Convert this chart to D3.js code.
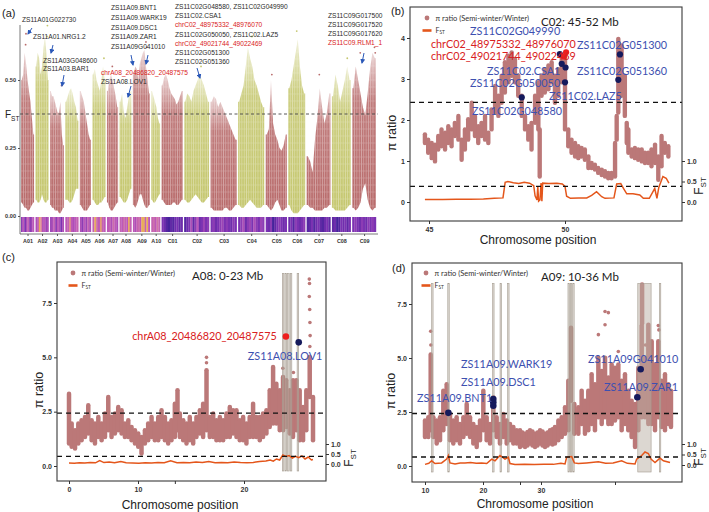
<!DOCTYPE html>
<html>
<head>
<meta charset="utf-8">
<script src="https://cdn.jsdelivr.net/npm/d3@7"></script>
<style>
  body { margin: 0; background: #fff; }
  text { font-family: "Liberation Sans", Arial, sans-serif; }
  .lato { font-family: Lato, "Open Sans", sans-serif; }
</style>
</head>
<body>
<svg id="fig" width="709" height="512"></svg>
<script>
// ---------- panel (a): genome-wide FST ----------
var chroms = ["A01","A02","A03","A04","A05","A06","A07","A08","A09","A10",
              "C01","C02","C03","C04","C05","C06","C07","C08","C09"];
var chromMb = [34,34,36,34,29,34,29,31,44,23,55,65,68,68,55,44,62,49,62];

// upper edge of the FST point cloud along each chromosome
var fstTopA = [
  [0.50,0.52,0.60,0.56,0.50,0.46,0.42,0.36,0.30],
  [0.55,0.60,0.58,0.52,0.55,0.62,0.66,0.60,0.50],
  [0.46,0.44,0.44,0.42,0.40,0.38,0.38,0.42,0.30,0.26],
  [0.42,0.44,0.46,0.47,0.45,0.42,0.40,0.35],
  [0.46,0.44,0.42,0.38,0.34,0.30,0.28],
  [0.52,0.54,0.50,0.48,0.46,0.50,0.55,0.50],
  [0.46,0.50,0.52,0.50,0.47,0.44,0.40],
  [0.42,0.45,0.38,0.36,0.40,0.44,0.46],
  [0.52,0.55,0.54,0.50,0.56,0.58,0.60,0.61,0.55,0.50,0.45],
  [0.46,0.44,0.42,0.40,0.36,0.34],
  [0.48,0.51,0.52,0.50,0.47,0.45,0.44,0.43,0.41,0.42,0.44,0.46],
  [0.42,0.45,0.44,0.42,0.46,0.48,0.50,0.52,0.50,0.48,0.45,0.42],
  [0.42,0.44,0.43,0.40,0.42,0.40,0.38,0.36,0.34,0.32,0.30,0.28],
  [0.42,0.45,0.48,0.55,0.62,0.58,0.55,0.50,0.48,0.45,0.42,0.40],
  [0.30,0.32,0.50,0.34,0.30,0.28,0.25,0.24,0.26,0.30],
  [0.47,0.50,0.55,0.60,0.65,0.55,0.48,0.45],
  [0.22,0.20,0.16,0.28,0.36,0.47,0.40,0.34,0.38,0.45],
  [0.44,0.52,0.48,0.42,0.46,0.50,0.55,0.50],
  [0.47,0.55,0.50,0.45,0.40,0.37,0.45,0.54,0.60,0.58]
];
// lower edge of the cloud
var fstLowA = [
  [0.05,0.04,0.03,0.03,0.02,0.02,0.03,0.04,0.05],
  [0.06,0.05,0.05,0.06,0.08,0.06,0.05,0.05,0.06],
  [0.04,0.03,0.03,0.02,0.02,0.02,0.01,0.01,0.02,0.03],
  [0.06,0.06,0.05,0.05,0.06,0.08,0.10,0.10],
  [0.04,0.03,0.02,0.02,0.02,0.03,0.04],
  [0.06,0.05,0.04,0.04,0.05,0.05,0.06,0.07],
  [0.05,0.03,0.02,0.02,0.03,0.04,0.05],
  [0.07,0.06,0.05,0.05,0.06,0.08,0.10],
  [0.04,0.03,0.04,0.06,0.08,0.08,0.06,0.04,0.03,0.03,0.04],
  [0.06,0.05,0.05,0.06,0.07,0.08],
  [0.06,0.05,0.04,0.04,0.04,0.04,0.05,0.05,0.04,0.04,0.05,0.06],
  [0.06,0.05,0.05,0.06,0.07,0.08,0.07,0.06,0.05,0.05,0.06,0.07],
  [0.03,0.02,0.02,0.02,0.02,0.02,0.03,0.03,0.02,0.02,0.03,0.04],
  [0.04,0.03,0.03,0.04,0.05,0.06,0.05,0.04,0.03,0.03,0.03,0.04],
  [0.04,0.03,0.02,0.03,0.05,0.06,0.04,0.02,0.02,0.03],
  [0.04,0.02,0.01,0.01,0.01,0.02,0.03,0.04],
  [0.04,0.03,0.03,0.02,0.02,0.02,0.02,0.03,0.03,0.04],
  [0.03,0.02,0.02,0.02,0.02,0.02,0.03,0.04],
  [0.03,0.02,0.03,0.05,0.10,0.12,0.06,0.03,0.02,0.03]
];
// isolated high points: [chromosome index, Mb, FST]
var fstOutA = [[0,13,0.67],[0,12,0.63],[1,31,0.70],[1,30,0.66],[2,30,0.48],[5,30,0.58],
               [6,14,0.55],[8,34,0.64],[8,36,0.62],[11,44,0.55],[13,36,0.66],[14,16,0.52],
               [15,22,0.68],[16,33,0.52],[17,40,0.58],[18,21,0.60],[18,58,0.62],[18,60,0.60]];
// heat strip under each chromosome (0 = dark blue ... 1 = yellow)
var heatA = [
  [0.35,0.50,0.30,0.45,0.55,0.35,0.40,0.50],
  [0.45,0.50,0.88,0.70,0.45,0.50,0.40,0.45],
  [0.40,0.45,0.55,0.35,0.50,0.45,0.30,0.45],
  [0.50,0.55,0.75,0.50,0.45,0.50,0.55],
  [0.45,0.35,0.50,0.40,0.55,0.45],
  [0.55,0.88,0.60,0.50,0.82,0.55,0.50],
  [0.50,0.55,0.45,0.60,0.50,0.45],
  [0.55,0.50,0.60,0.55,0.50,0.88,0.55],
  [0.50,0.45,0.55,0.60,0.50,0.92,0.88,0.55,0.92,0.50],
  [0.55,0.60,0.50,0.65,0.55],
  [0.30,0.25,0.15,0.10,0.20,0.15,0.25,0.30,0.20,0.25],
  [0.15,0.25,0.30,0.45,0.20,0.35,0.50,0.25,0.30,0.40,0.30,0.35],
  [0.30,0.35,0.25,0.30,0.35,0.40,0.30,0.35,0.30,0.25,0.35,0.30],
  [0.30,0.35,0.45,0.25,0.35,0.40,0.30,0.45,0.35,0.30,0.40,0.35],
  [0.30,0.25,0.35,0.10,0.20,0.30,0.35,0.30,0.25,0.30],
  [0.25,0.30,0.15,0.35,0.30,0.25,0.30,0.35],
  [0.15,0.20,0.30,0.15,0.25,0.30,0.20,0.15,0.25,0.30,0.20],
  [0.20,0.25,0.10,0.15,0.30,0.25,0.30,0.20,0.30],
  [0.30,0.35,0.30,0.25,0.35,0.30,0.25,0.35,0.30,0.35,0.30]
];
var aTicks = [0, 0.25, 0.5];
var aCut = 0.375;

// gene annotations of panel (a): [text, red?]
var aNotes = [
  ["ZS11A01G022730",0],["ZS11A01.NRG1.2",0],["ZS11A03G048600",0],["ZS11A03.BAR1",0],
  ["ZS11A09.BNT1",0],["ZS11A09.WARK19",0],["ZS11A09.DSC1",0],["ZS11A09.ZAR1",0],["ZS11A09G041010",0],
  ["chrA08_20486820_20487575",1],["ZS11A08.LOV1",0],
  ["ZS11C02G048580, ZS11C02G049990",0],["ZS11C02.CSA1",0],["chrC02_48975332_48976070",1],
  ["ZS11C02G050050, ZS11C02.LAZ5",0],["chrC02_49021744_49022469",1],["ZS11C02G051300",0],["ZS11C02G051360",0],
  ["ZS11C09G017500",0],["ZS11C09G017520",0],["ZS11C09G017620",0],["ZS11C09.RLM1_1",1]
];
// where each note sits (px)
var aNotePos = [[22,22],[33,39],[43,63],[43,71],[111,10],[111,20],[111,30],[111,39],[111,49],
  [101,75],[101,84],[175,9],[175,18],[175,27],[175,37],[175,46],[175,55],[175,64],
  [328,18],[328,27],[328,36],[328,45]];
var aArrows = [[32,28,28,34],[53,45,51,53],[64,75,62,86],[131,55,133,65],[148,55,146,64],
  [131,86,128,97],[197,68,200,78],[364,53,362,63]];

// ---------- panel (b): C02 45-52 Mb ----------
// [Mb, lowest pi ratio, highest pi ratio] of the dot column at that position
var bSlices = [
  [44.85,1.44,1.65],[44.97,1.20,1.52],[45.10,1.07,1.44],[45.22,0.99,1.40],[45.34,1.28,1.61],
  [45.46,1.36,1.77],[45.59,1.28,1.69],[45.71,1.44,1.85],[45.83,1.36,1.77],[45.95,1.61,1.93],
  [46.08,1.52,2.10],[46.20,1.03,1.52],[46.32,1.28,1.77],[46.44,1.52,2.02],[46.57,1.77,2.42],
  [46.69,1.61,2.10],[46.81,1.44,1.85],[46.93,1.61,1.93],[47.06,1.52,2.10],[47.18,1.44,1.69],
  [47.30,1.77,2.26],[47.43,2.18,2.83],[47.55,2.10,2.59],[47.67,2.42,3.08],[47.79,2.67,3.41],
  [47.92,2.92,3.57],[48.04,3.08,3.65],[48.16,2.92,3.49],[48.28,2.59,3.08],[48.41,2.10,2.59],
  [48.53,1.77,2.10],[48.65,1.52,1.85],[48.77,1.28,1.93],[48.90,1.93,2.59],[49.02,1.77,2.92],
  [49.07,0.62,1.77],[49.14,2.59,3.08],[49.26,2.67,3.24],[49.39,2.75,3.33],[49.51,2.92,3.41],
  [49.63,2.42,3.08],[49.75,2.59,3.24],[49.88,2.92,3.57],[50.00,1.77,3.57],[50.12,1.36,1.77],
  [50.24,1.20,1.52],[50.37,1.11,1.44],[50.49,1.07,1.36],[50.61,1.11,1.32],[50.73,1.03,1.28],
  [50.86,0.83,1.11],[50.98,0.83,0.95],[51.10,0.79,0.91],[51.22,0.71,0.83],[51.35,0.66,0.79],
  [51.47,0.62,0.75],[51.59,0.58,0.71],[51.71,0.58,0.71],[51.84,0.62,1.44],[51.90,1.52,2.10],
  [51.96,2.18,3.98],[52.08,2.59,3.82],[52.20,2.10,3.08],[52.27,1.44,1.93],[52.33,1.20,1.77],
  [52.45,1.11,1.28],[52.57,1.07,1.32],[52.69,1.03,1.28],[52.82,0.99,1.28],[52.94,0.95,1.20],
  [53.06,0.95,1.20],[53.18,0.87,1.28],[53.31,0.95,1.40],[53.43,0.54,1.11],[53.55,0.87,1.61],
  [53.67,1.20,1.44],[53.80,1.11,1.36]
];
var bFst = [[44.85,0.06],[45.5,0.06],[46.0,0.065],[46.5,0.07],[47.0,0.075],[47.4,0.09],[47.72,0.10],
  [47.8,0.48],[47.9,0.50],[48.1,0.47],[48.3,0.45],[48.5,0.48],[48.7,0.46],[48.85,0.40],[48.9,0.15],
  [48.97,0.05],[49.0,0.38],[49.03,0.02],[49.08,0.05],[49.12,0.46],[49.15,0.02],[49.18,0.46],
  [49.4,0.45],[49.7,0.46],[49.9,0.44],[50.0,0.38],[50.06,0.14],[50.2,0.09],[50.5,0.10],[50.8,0.10],
  [50.98,0.16],[51.16,0.25],[51.35,0.13],[51.47,0.09],[51.8,0.10],[51.9,0.44],[52.05,0.45],
  [52.15,0.33],[52.27,0.20],[52.5,0.20],[52.75,0.17],[52.88,0.09],[53.1,0.09],[53.3,0.33],
  [53.38,0.09],[53.45,0.36],[53.6,0.62],[53.72,0.58],[53.82,0.46]];
var bNavy = [[49.81,3.61],[49.88,3.37],[50.02,3.28],[50.00,2.92],[48.41,2.55],[52.02,3.60],[51.96,2.98]];
var bRed = [[50.04,3.65],[49.96,3.55]];
var bNotes = [["ZS11C02G049990",0],["chrC02_48975332_48976070",1],["chrC02_49021744_49022469",1],
  ["ZS11C02G051300",0],["ZS11C02.CSA1",0],["ZS11C02G051360",0],["ZS11C02G050050",0],
  ["ZS11C02.LAZ5",0],["ZS11C02G048580",0]];
var bNotePos = [[46.51,4.08],[45.07,3.76],[45.07,3.46],[50.44,3.73],[47.13,3.10],[50.44,3.10],
  [46.51,2.80],[49.41,2.48],[46.58,2.11]];

// ---------- panel (c): A08 0-23 Mb ----------
var cSlices = [
  [0.00,1.04,3.33],[0.25,0.88,1.95],[0.57,0.81,1.65],[0.88,1.04,1.95],[1.19,1.19,2.11],
  [1.51,1.34,2.26],[1.82,1.49,2.80],[2.14,1.19,2.11],[2.45,1.04,1.95],[2.77,1.34,2.26],
  [3.08,1.19,1.95],[3.40,1.34,2.41],[3.71,1.65,3.18],[4.02,1.34,2.26],[4.34,1.49,2.41],
  [4.65,1.65,2.72],[4.97,1.49,2.57],[5.28,1.34,1.95],[5.60,1.34,2.11],[5.91,1.19,1.80],
  [6.23,1.04,1.65],[6.54,0.88,1.49],[6.85,0.58,1.34],[7.17,1.04,1.65],[7.48,1.19,1.95],
  [7.80,1.34,2.26],[8.11,1.19,1.95],[8.43,1.19,2.26],[8.74,1.34,2.57],[9.06,1.19,2.26],
  [9.37,1.04,1.95],[9.68,1.19,2.11],[10.00,1.34,2.87],[10.25,1.65,3.48],[10.47,1.34,2.41],
  [10.79,1.19,2.11],[11.10,1.04,1.95],[11.41,1.19,2.26],[11.73,1.04,1.95],[12.04,1.34,2.26],
  [12.36,1.49,2.57],[12.67,1.34,2.87],[12.99,1.65,4.40],[13.30,1.34,2.26],[13.62,1.34,2.41],
  [13.93,1.19,2.11],[14.25,1.19,2.26],[14.56,1.19,2.11],[14.87,1.34,2.41],[15.19,1.34,2.72],
  [15.50,1.49,2.57],[15.82,1.34,2.57],[16.13,1.19,2.11],[16.45,1.19,2.26],[16.76,1.04,1.95],
  [17.07,1.34,2.26],[17.39,1.34,2.87],[17.70,1.34,2.26],[18.02,1.19,2.26],[18.33,1.34,2.41],
  [18.65,1.49,2.57],[18.96,1.80,3.48],[19.28,1.95,4.55],[19.59,1.95,3.79],[19.91,1.65,3.48],
  [20.22,1.65,4.10],[20.53,1.80,3.95],[20.85,1.49,3.48],[21.16,1.34,3.95],[21.48,1.65,3.95],
  [21.79,1.19,3.48],[22.11,1.19,2.72],[22.42,1.65,3.48],[22.74,3.18,5.01],[23.05,1.19,3.18]
];
var cOut = [[12.99,5.0],[12.99,4.75],[22.70,8.6],[22.72,8.4],[22.70,7.8],[22.74,7.2],[22.76,6.6],
  [22.78,6.0],[22.75,5.5],[20.20,4.5],[21.20,4.3]];
var cFst = [[0.0,0.05],[0.5,0.04],[1.0,0.06],[1.5,0.05],[2.0,0.08],[2.5,0.06],[2.9,0.17],[3.3,0.07],
  [3.8,0.10],[4.3,0.06],[4.9,0.12],[5.4,0.06],[6.0,0.05],[6.6,0.04],[7.2,0.06],[7.8,0.05],[8.4,0.07],
  [9.0,0.06],[9.6,0.16],[10.2,0.06],[10.8,0.08],[11.4,0.06],[12.0,0.10],[12.6,0.07],[13.2,0.12],
  [13.8,0.06],[14.4,0.08],[15.0,0.06],[15.6,0.10],[16.2,0.07],[16.8,0.06],[17.4,0.08],[18.0,0.12],
  [18.6,0.15],[19.0,0.20],[19.3,0.14],[19.6,0.25],[19.9,0.20],[20.2,0.45],[20.5,0.38],[20.8,0.42],
  [21.1,0.30],[21.4,0.38],[21.7,0.32],[22.0,0.40],[22.3,0.25],[22.6,0.35],[22.9,0.20],[23.05,0.22]];
var cBands = [[20.15,20.30],[20.40,20.55],[20.65,20.80],[20.90,21.05],[21.55,21.70]];
var cNavy = [[21.70,5.69]];
var cRed = [[20.49,5.96]];
var cNotes = [["chrA08_20486820_20487575",1],["ZS11A08.LOV1",0]];
var cNotePos = [[19.62,5.78,"end"],[16.89,4.86,"start"]];

// ---------- panel (d): A09 10-36 Mb ----------
var dSlices = [
  [10.00,1.34,2.11],[10.35,1.34,2.26],[10.60,1.65,5.16],[10.88,1.34,2.26],[11.23,1.04,2.11],
  [11.58,1.19,2.26],[11.93,1.65,3.48],[12.28,1.95,3.79],[12.63,1.19,2.41],[12.98,1.04,2.11],
  [13.33,1.19,2.26],[13.68,1.04,1.95],[14.04,1.34,2.26],[14.39,1.49,2.87],[14.74,1.34,2.26],
  [15.09,1.04,1.95],[15.44,0.88,1.80],[15.79,1.19,2.11],[16.14,1.65,3.48],[16.49,1.19,2.26],
  [16.84,1.04,1.95],[17.19,1.65,3.18],[17.54,1.34,2.26],[17.89,1.04,1.95],[18.25,1.34,2.41],
  [18.60,1.04,2.11],[18.95,1.19,1.95],[19.30,1.04,1.80],[19.65,1.04,1.65],[20.00,0.88,1.65],
  [20.26,0.95,1.55],[20.53,0.88,1.49],[20.79,0.95,1.57],[21.05,1.04,1.65],[21.31,0.95,1.60],
  [21.58,0.88,1.49],[21.84,0.95,1.55],[22.11,1.04,1.65],[22.37,0.95,1.60],[22.63,0.88,1.49],
  [22.90,0.95,1.55],[23.16,1.04,1.65],[23.42,1.00,1.70],[23.68,1.04,1.80],[24.04,1.19,2.11],
  [24.39,1.34,2.26],[24.74,1.49,2.72],[25.09,1.65,3.95],[25.37,3.02,6.40],[25.72,1.49,2.87],
  [26.14,1.49,2.72],[26.49,1.95,3.48],[26.84,1.49,3.02],[27.19,1.65,3.48],[27.54,1.95,4.25],
  [27.89,1.65,3.79],[28.25,2.26,5.01],[28.60,1.95,4.40],[28.95,2.26,5.01],[29.30,1.95,4.10],
  [29.65,1.95,4.70],[30.00,2.11,4.55],[30.35,2.26,4.70],[30.70,1.65,3.95],[31.05,1.95,4.25],
  [31.40,1.65,3.48],[31.75,1.34,3.02],[32.11,0.88,2.87],[32.46,1.65,4.55],[32.81,2.26,6.50],
  [32.85,6.60,8.40],[33.16,2.26,5.01],[33.51,1.95,6.54],[33.86,1.95,5.78],[34.21,1.65,4.70],
  [34.56,2.26,5.78],[34.91,1.80,3.95],[35.26,1.65,4.25],[35.61,1.95,3.79],[35.89,1.80,3.48]
];
var dOut = [[10.60,6.24],[10.62,5.6],[28.25,6.08],[28.95,7.15],[28.95,6.54],[29.30,7.1],
  [34.56,6.5],[30.35,5.3],[33.20,5.6],[34.62,6.3]];
var dFst = [[10.0,0.03],[10.4,0.08],[10.7,0.20],[11.05,0.07],[11.75,0.10],[12.28,0.28],[12.46,0.45],
  [12.63,0.10],[13.16,0.05],[13.7,0.10],[14.21,0.09],[14.8,0.12],[15.4,0.08],[15.96,0.10],[16.5,0.07],
  [17.02,0.28],[17.37,0.20],[17.89,0.45],[18.14,0.37],[18.42,0.28],[18.77,0.37],[18.95,0.07],
  [19.47,0.02],[20.5,0.03],[21.5,0.02],[22.5,0.03],[23.5,0.03],[24.3,0.08],[24.74,0.05],[24.91,0.37],
  [25.44,0.40],[25.72,0.10],[26.14,0.07],[27.0,0.10],[28.25,0.15],[29.0,0.08],[29.8,0.10],[30.7,0.20],
  [31.3,0.08],[32.11,0.05],[32.28,0.28],[32.81,0.45],[33.16,0.62],[33.51,0.55],[33.79,0.28],
  [34.21,0.12],[34.74,0.33],[35.09,0.20],[35.79,0.12]];
var dBands = [[10.70,10.85],[12.40,12.55],[17.12,17.27],[17.90,18.05],[18.70,18.85],[25.05,25.20],
  [25.30,25.45],[25.55,25.70],[32.40,33.80],[34.67,34.82]];
var dNavy = [[12.46,2.46],[17.19,3.10],[17.19,2.95],[17.19,2.79],[32.70,4.48],[32.35,3.18]];
var dNotes = [["ZS11A09.BNT1",0],["ZS11A09.WARK19",0],["ZS11A09.DSC1",0],["ZS11A09G041010",0],["ZS11A09.ZAR1",0]];
var dNotePos = [[9.16,2.94,"start"],[13.79,4.54,"start"],[13.79,3.72,"start"],[27.16,4.77,"start"],[28.84,3.49,"start"]];

var piCut = 2.43, fstCut = 0.38;

// ---------- drawing ----------
var svg = d3.select("#fig");
var PI_COL = "#bb7878", FST_COL = "#e4561b", NAVY = "#151a5c", RED = "#ee1e1e",
    BLUE = "#3d50b0", NOTE_RED = "#d92121";
var defs = svg.append("defs");

defs.append("marker").attr("id", "arr").attr("viewBox", "0 0 10 10")
  .attr("refX", 8).attr("refY", 5).attr("markerWidth", 5).attr("markerHeight", 5)
  .attr("orient", "auto")
  .append("path").attr("d", "M0,0L10,5L0,10z").attr("fill", "#2b58b8");

var aCols = ["#b86b6b", "#c5c76f"];
aCols.forEach(function(c, i) {
  var g = defs.append("linearGradient").attr("id", "fade" + i)
    .attr("x1", 0).attr("y1", 0).attr("x2", 0).attr("y2", 1);
  g.append("stop").attr("offset", "0%").attr("stop-color", c).attr("stop-opacity", 0.3);
  g.append("stop").attr("offset", "30%").attr("stop-color", c).attr("stop-opacity", 0.88);
  g.append("stop").attr("offset", "100%").attr("stop-color", c).attr("stop-opacity", 1);
});
// thin white streaks so the clouds read as columns of points
var streak = defs.append("pattern").attr("id", "streak").attr("patternUnits", "userSpaceOnUse")
  .attr("width", 2.3).attr("height", 7);
streak.append("rect").attr("x", 0).attr("y", 0).attr("width", 0.6).attr("height", 7)
  .attr("fill", "#fff").attr("fill-opacity", 0.45);
streak.append("rect").attr("x", 1.3).attr("y", 2).attr("width", 0.4).attr("height", 2)
  .attr("fill", "#fff").attr("fill-opacity", 0.35);

// ---- (a)
var gapMb = 3.8, starts = [], acc = 0;
chromMb.forEach(function(l) { starts.push(acc); acc += l + gapMb; });
var totalMb = acc - gapMb;
var aX = d3.scaleLinear().domain([0, totalMb]).range([21, 376]);
var aY = d3.scaleLinear().domain([0, 0.5]).range([216, 80]);
var heat = d3.scaleLinear().domain([0, 0.3, 0.5, 0.7, 1])
  .range(["#2c1b8f", "#7b32b2", "#bd58b8", "#d9809e", "#efc236"]);
var gA = svg.append("g");

var cloud = d3.area().x(function(d) { return aX(d.x); })
  .y0(function(d) { return aY(d.lo); }).y1(function(d) { return aY(d.hi); });

chroms.forEach(function(c, i) {
  var tops = fstTopA[i], lows = fstLowA[i], n = tops.length, w = chromMb[i] / n;
  var pts = [{x: starts[i], lo: lows[0], hi: tops[0]}];
  tops.forEach(function(t, j) { pts.push({x: starts[i] + (j + 0.5) * w, lo: lows[j], hi: t}); });
  pts.push({x: starts[i] + chromMb[i], lo: lows[n - 1], hi: tops[n - 1]});
  gA.append("path").datum(pts).attr("d", cloud).attr("fill", "url(#fade" + (i % 2) + ")");
  gA.append("path").datum(pts).attr("d", cloud).attr("fill", "url(#streak)");

  var hv = heatA[i], hw = chromMb[i] / hv.length;
  gA.selectAll(null).data(hv).enter().append("rect")
    .attr("x", function(d, j) { return aX(starts[i] + j * hw); })
    .attr("width", function(d, j) { return aX(starts[i] + (j + 1) * hw) - aX(starts[i] + j * hw) + 0.2; })
    .attr("y", 217).attr("height", 15)
    .attr("fill", function(d) { return heat(d); });
});

gA.selectAll(null).data(fstOutA).enter().append("circle")
  .attr("cx", function(d) { return aX(starts[d[0]] + d[1]); })
  .attr("cy", function(d) { return aY(d[2]); })
  .attr("r", 0.9).attr("fill", function(d) { return aCols[d[0] % 2]; });

gA.append("line").attr("x1", 20).attr("x2", 378).attr("y1", aY(aCut)).attr("y2", aY(aCut))
  .attr("stroke", "#444").attr("stroke-width", 0.9).attr("stroke-dasharray", "3,2.5");

gA.append("line").attr("x1", 20).attr("x2", 20).attr("y1", 25).attr("y2", 234).attr("stroke", "#555").attr("stroke-width", 0.8);
gA.append("line").attr("x1", 20).attr("x2", 378).attr("y1", 234).attr("y2", 234).attr("stroke", "#555").attr("stroke-width", 0.8);

var aLeft = gA.append("g").attr("transform", "translate(20,0)")
  .call(d3.axisLeft(aY).tickValues(aTicks).tickFormat(d3.format(".2f")).tickSize(2).tickPadding(2));
aLeft.select(".domain").remove();
aLeft.selectAll("text").attr("font-size", 5.6).attr("font-weight", "bold").attr("fill", "#333");
aLeft.selectAll("line").attr("stroke", "#555");

var centers = chroms.map(function(c, i) { return starts[i] + chromMb[i] / 2; });
var aBot = gA.append("g").attr("transform", "translate(0,234)")
  .call(d3.axisBottom(aX).tickValues(centers).tickFormat(function(d, i) { return chroms[i]; }).tickSize(2).tickPadding(3));
aBot.select(".domain").remove();
aBot.selectAll("text").attr("font-size", 5.4).attr("font-weight", "bold").attr("fill", "#333");
aBot.selectAll("line").attr("stroke", "#555");

var aLab = gA.append("text").attr("x", 5).attr("y", 118).attr("font-size", 10).attr("fill", "#222");
aLab.append("tspan").text("F");
aLab.append("tspan").attr("font-size", 6.5).attr("dy", 2.5).text("ST");

gA.selectAll(null).data(aNotes).enter().append("text")
  .attr("x", function(d, i) { return aNotePos[i][0]; })
  .attr("y", function(d, i) { return aNotePos[i][1]; })
  .attr("font-size", 6.6).attr("fill", function(d) { return d[1] ? NOTE_RED : "#2a2a2a"; })
  .text(function(d) { return d[0]; });

gA.selectAll(null).data(aArrows).enter().append("line")
  .attr("x1", function(d) { return d[0]; }).attr("y1", function(d) { return d[1]; })
  .attr("x2", function(d) { return d[2]; }).attr("y2", function(d) { return d[3]; })
  .attr("stroke", "#2b58b8").attr("stroke-width", 1).attr("marker-end", "url(#arr)");

svg.append("text").attr("x", 2).attr("y", 17).attr("font-size", 11).attr("fill", "#222").text("(a)");

// ---- (b), (c), (d)
var panels = [
  {tag: "(b)", tagPos: [391, 15], frame: [410, 7, 682, 221],
   xDom: [45, 50], xRng: [429, 565], labDom: [45, 50], labRng: [429, 565], xTicks: [45, 50], extra: [],
   piDom: [0, 4], piRng: [202, 38], piTicks: [0, 1, 2, 3, 4], piFmt: "d", fRng: [202, 161],
   slices: bSlices, outs: [], fst: bFst, bands: [], bandTop: 0, navy: bNavy, red: bRed,
   notes: bNotes, notePos: bNotePos, r: 1.75, dotR: 3.1,
   title: "C02: 45-52 Mb", titlePos: [541, 26], leg: [427, 18],
   piLab: [396, 133], fstLab: [703, 186], xLab: [538, 244]},
  {tag: "(c)", tagPos: [2, 261], frame: [57, 262, 326, 481],
   xDom: [0, 23.05], xRng: [69, 313], labDom: [0, 10, 20], labRng: [69, 138, 244], xTicks: [0, 10, 20], extra: [10],
   piDom: [0, 7.5], piRng: [466, 303], piTicks: [0, 2.5, 5, 7.5], piFmt: ".1f", fRng: [464, 444],
   slices: cSlices, outs: cOut, fst: cFst, bands: cBands, bandTop: 8.85, navy: cNavy, red: cRed,
   notes: cNotes, notePos: cNotePos, r: 1.8, dotR: 3.3,
   title: "A08: 0-23 Mb", titlePos: [192, 280], leg: [73, 273],
   piLab: [43, 390], fstLab: [353, 458], xLab: [180, 509]},
  {tag: "(d)", tagPos: [392, 272], frame: [412, 263, 682, 482],
   xDom: [10, 36], xRng: [425, 672], labDom: [10, 30], labRng: [425, 541], xTicks: [10, 20, 30], extra: [20, 30],
   piDom: [0, 7.5], piRng: [466, 304], piTicks: [0, 2.5, 5, 7.5], piFmt: ".1f", fRng: [465, 444],
   slices: dSlices, outs: dOut, fst: dFst, bands: dBands, bandTop: 8.45, navy: dNavy, red: [],
   notes: dNotes, notePos: dNotePos, r: 1.8, dotR: 3.3,
   title: "A09: 10-36 Mb", titlePos: [541, 281], leg: [426, 273],
   piLab: [395, 391], fstLab: [703, 457], xLab: [535, 508]}
];

panels.forEach(function(p) {
  var g = svg.append("g");
  var L = p.frame[0], T = p.frame[1], R = p.frame[2], B = p.frame[3];
  var x = d3.scaleLinear().domain(p.xDom).range(p.xRng);
  var y = d3.scaleLinear().domain(p.piDom).range(p.piRng);
  var yf = d3.scaleLinear().domain([0, 1]).range(p.fRng);
  var xl = d3.scaleLinear().domain(p.labDom).range(p.labRng);

  // pi ratio dots, drawn as dense columns
  g.selectAll(null).data(p.slices).enter().append("line")
    .attr("x1", function(d) { return x(d[0]); }).attr("x2", function(d) { return x(d[0]); })
    .attr("y1", function(d) { return y(d[1]); }).attr("y2", function(d) { return y(d[2]); })
    .attr("stroke", PI_COL).attr("stroke-width", p.r * 2.5).attr("stroke-linecap", "round");
  g.selectAll(null).data(p.outs).enter().append("circle")
    .attr("cx", function(d) { return x(d[0]); }).attr("cy", function(d) { return y(d[1]); })
    .attr("r", p.r).attr("fill", PI_COL);

  // selected windows
  g.selectAll(null).data(p.bands).enter().append("rect")
    .attr("x", function(d) { return x(d[0]); })
    .attr("width", function(d) { return x(d[1]) - x(d[0]); })
    .attr("y", y(p.bandTop)).attr("height", (B - 10) - y(p.bandTop))
    .attr("fill", "#b9b0a4").attr("fill-opacity", 0.5)
    .attr("stroke", "#a59c90").attr("stroke-width", 0.6);

  // FST line
  g.append("path").datum(p.fst)
    .attr("d", d3.line().x(function(d) { return x(d[0]); }).y(function(d) { return yf(d[1]); }))
    .attr("fill", "none").attr("stroke", FST_COL).attr("stroke-width", 1.5);

  // thresholds
  [y(piCut), yf(fstCut)].forEach(function(yy) {
    g.append("line").attr("x1", L).attr("x2", R).attr("y1", yy).attr("y2", yy)
      .attr("stroke", "#111").attr("stroke-width", 1.3).attr("stroke-dasharray", "5,4");
  });

  g.selectAll(null).data(p.navy).enter().append("circle")
    .attr("cx", function(d) { return x(d[0]); }).attr("cy", function(d) { return y(d[1]); })
    .attr("r", p.dotR).attr("fill", NAVY);
  g.selectAll(null).data(p.red).enter().append("circle")
    .attr("cx", function(d) { return x(d[0]); }).attr("cy", function(d) { return y(d[1]); })
    .attr("r", p.dotR).attr("fill", RED);

  g.selectAll(null).data(p.notes).enter().append("text").attr("class", "lato")
    .attr("x", function(d, i) { return x(p.notePos[i][0]); })
    .attr("y", function(d, i) { return y(p.notePos[i][1]); })
    .attr("text-anchor", function(d, i) { return p.notePos[i][2] || "start"; })
    .attr("font-size", 10.8).attr("fill", function(d) { return d[1] ? NOTE_RED : BLUE; })
    .text(function(d) { return d[0]; });

  // frame
  g.append("rect").attr("x", L).attr("y", T).attr("width", R - L).attr("height", B - T)
    .attr("fill", "none").attr("stroke", "#3a3a3a").attr("stroke-width", 1.1);

  // axes
  var ax1 = g.append("g").attr("transform", "translate(" + L + ",0)")
    .call(d3.axisLeft(y).tickValues(p.piTicks).tickFormat(d3.format(p.piFmt)).tickSize(3).tickPadding(2));
  var ax2 = g.append("g").attr("transform", "translate(" + R + ",0)")
    .call(d3.axisRight(yf).tickValues([0, 0.5, 1]).tickFormat(d3.format(".1f")).tickSize(3).tickPadding(2));
  var ax3 = g.append("g").attr("transform", "translate(0," + B + ")")
    .call(d3.axisBottom(xl).tickValues(p.xTicks).tickFormat(d3.format("d")).tickSize(3).tickPadding(3));
  var ax4 = g.append("g").attr("transform", "translate(0," + B + ")")
    .call(d3.axisBottom(x).tickValues(p.extra).tickFormat("").tickSize(3));
  [ax1, ax2, ax3, ax4].forEach(function(a) {
    a.select(".domain").remove();
    a.selectAll("text").attr("font-size", 7).attr("font-weight", "bold").attr("fill", "#333");
    a.selectAll("line").attr("stroke", "#333");
  });

  // legend
  g.append("circle").attr("cx", p.leg[0]).attr("cy", p.leg[1]).attr("r", 2.4).attr("fill", PI_COL);
  g.append("text").attr("class", "lato").attr("x", p.leg[0] + 8.5).attr("y", p.leg[1] + 2.8)
    .attr("font-size", 7.5).attr("fill", "#333").text("\u03c0 ratio (Semi-winter/Winter)");
  g.append("line").attr("x1", p.leg[0] - 4.5).attr("x2", p.leg[0] + 4.5)
    .attr("y1", p.leg[1] + 12.5).attr("y2", p.leg[1] + 12.5)
    .attr("stroke", FST_COL).attr("stroke-width", 2.6);
  var lf = g.append("text").attr("class", "lato").attr("x", p.leg[0] + 8.5).attr("y", p.leg[1] + 14.5)
    .attr("font-size", 7).attr("fill", "#333");
  lf.append("tspan").text("F");
  lf.append("tspan").attr("font-size", 4.8).attr("dy", 1.5).text("ST");

  g.append("text").attr("class", "lato").attr("x", p.titlePos[0]).attr("y", p.titlePos[1])
    .attr("font-size", 11.5).attr("fill", "#222").text(p.title);

  g.append("text").attr("transform", "translate(" + p.piLab[0] + "," + p.piLab[1] + ") rotate(-90)")
    .attr("text-anchor", "middle").attr("font-size", 12.5).attr("fill", "#222").text("\u03c0 ratio");
  var fl = g.append("text").attr("transform", "translate(" + p.fstLab[0] + "," + p.fstLab[1] + ") rotate(-90)")
    .attr("text-anchor", "middle").attr("font-size", 12).attr("fill", "#222");
  fl.append("tspan").text("F");
  fl.append("tspan").attr("font-size", 8).attr("dy", 2.5).text("ST");

  g.append("text").attr("x", p.xLab[0]).attr("y", p.xLab[1]).attr("text-anchor", "middle")
    .attr("font-size", 12).attr("fill", "#222").text("Chromosome position");

  svg.append("text").attr("x", p.tagPos[0]).attr("y", p.tagPos[1])
    .attr("font-size", 11).attr("fill", "#222").text(p.tag);
});
</script>
</body>
</html>
